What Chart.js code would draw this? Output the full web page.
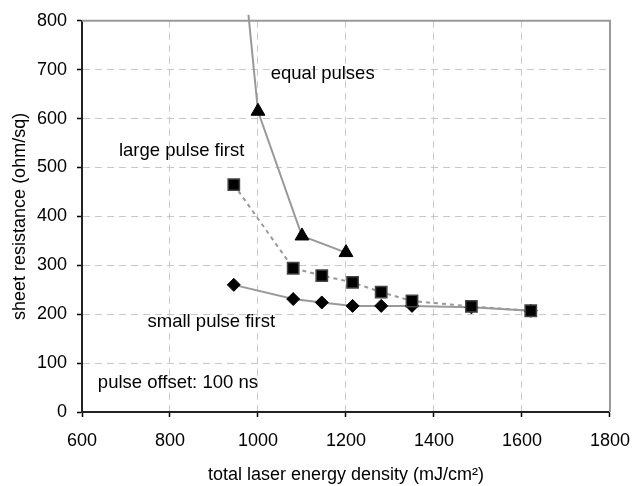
<!DOCTYPE html>
<html>
<head>
    <title>Sheet resistance vs laser energy density</title>
    <script src="https://cdn.jsdelivr.net/npm/chart.js"></script>
    <style>body { margin: 0; background: #fff; }</style>
</head>
<body>
    <canvas id="grafica" width="643" height="486"></canvas>

    <script>
        // datos
        var energiaIguales = [950, 1000, 1100, 1200];
        var resistIguales = [1070, 615, 360, 326];
        var energiaGrande = [945, 1080, 1145, 1215, 1280, 1350, 1485, 1620];
        var resistGrande = [465, 294, 279, 265, 245, 227, 216, 207];
        var energiaPequeno = [945, 1080, 1145, 1215, 1280, 1350, 1485, 1620];
        var resistPequeno = [260, 231, 224, 217, 217, 217, 214, 207];

        var textos = ['equal pulses', 'large pulse first', 'small pulse first', 'pulse offset: 100 ns'];
        var textosX = [1029, 684, 749, 636];
        var textosY = [691, 534, 185, 59];

        function puntos(xs, ys) {
            return xs.map(function(x, i) { return {x: x, y: ys[i]}; });
        }

        Chart.defaults.font.family = '"Liberation Sans", Arial, sans-serif';
        Chart.defaults.font.size = 18;
        Chart.defaults.color = '#000';

        var extras = {
            id: 'extras',
            beforeDatasetsDraw: function(chart) {
                var a = chart.chartArea, c = chart.ctx;
                c.save();
                c.strokeStyle = '#999';
                c.lineWidth = 2;
                c.beginPath();
                c.moveTo(a.left, a.top);
                c.lineTo(a.right, a.top);
                c.lineTo(a.right, a.bottom);
                c.stroke();
                c.restore();
            },
            afterDraw: function(chart) {
                var c = chart.ctx;
                c.save();
                c.font = '18.5px "Liberation Sans", Arial, sans-serif';
                c.fillStyle = '#000';
                c.textAlign = 'left';
                c.textBaseline = 'middle';
                textos.forEach(function(t, i) {
                    c.fillText(t, chart.scales.x.getPixelForValue(textosX[i]), chart.scales.y.getPixelForValue(textosY[i]));
                });
                c.restore();
            }
        };

        var ctx = document.getElementById('grafica').getContext('2d');

        var chart = new Chart(ctx, {
            type: 'line',
            data: {
                datasets: [{
                    label: 'equal pulses',
                    data: puntos(energiaIguales, resistIguales),
                    borderColor: '#999',
                    borderWidth: 2,
                    pointStyle: 'triangle',
                    pointRadius: [0, 8, 8, 8],
                    pointBackgroundColor: '#000',
                    pointBorderColor: '#000',
                    pointBorderWidth: 1,
                    clip: {left: 0, top: 6, right: 0, bottom: 0},
                    tension: 0
                }, {
                    label: 'large pulse first',
                    data: puntos(energiaGrande, resistGrande),
                    borderColor: '#999',
                    borderWidth: 2,
                    borderDash: [4, 4],
                    pointStyle: 'rect',
                    pointRadius: 8,
                    pointBackgroundColor: '#000',
                    pointBorderColor: '#444',
                    pointBorderWidth: 1.5,
                    tension: 0
                }, {
                    label: 'small pulse first',
                    data: puntos(energiaPequeno, resistPequeno),
                    borderColor: '#999',
                    borderWidth: 2,
                    pointStyle: 'rectRot',
                    pointRadius: 6.5,
                    pointBackgroundColor: '#000',
                    pointBorderColor: '#000',
                    pointBorderWidth: 1,
                    tension: 0
                }]
            },
            options: {
                responsive: false,
                animation: false,
                devicePixelRatio: 1,
                layout: {padding: {left: 0, top: 15, right: 21, bottom: 0}},
                plugins: {legend: {display: false}, tooltip: {enabled: false}},
                scales: {
                    x: {
                        type: 'linear',
                        min: 600,
                        max: 1800,
                        afterFit: function(s) { s.height = 74; },
                        ticks: {stepSize: 200, padding: 13, maxRotation: 0, callback: function(v) { return String(v); }},
                        grid: {
                            color: function(c) { return (c.tick && (c.tick.value === 600 || c.tick.value === 1800)) ? 'rgba(0,0,0,0)' : '#c8c8c8'; },
                            tickColor: '#000',
                            tickBorderDash: [],
                            tickLength: 5,
                            tickWidth: 1.5
                        },
                        border: {color: '#222', width: 2, dash: [7, 5]},
                        title: {display: true, text: 'total laser energy density (mJ/cm²)', padding: {top: 0, bottom: 0}}
                    },
                    y: {
                        min: 0,
                        max: 800,
                        afterFit: function(s) { s.width = 82; },
                        ticks: {stepSize: 100, padding: 10, callback: function(v) { return String(v); }},
                        grid: {
                            color: function(c) { return (c.tick && (c.tick.value === 0 || c.tick.value === 800)) ? 'rgba(0,0,0,0)' : '#c8c8c8'; },
                            tickColor: '#000',
                            tickBorderDash: [],
                            tickLength: 5,
                            tickWidth: 1.5
                        },
                        border: {color: '#222', width: 2, dash: [7, 5]},
                        title: {display: true, text: 'sheet resistance (ohm/sq)', padding: {top: 9, bottom: 0}}
                    }
                }
            },
            plugins: [extras]
        });
    </script>
</body>
</html>
